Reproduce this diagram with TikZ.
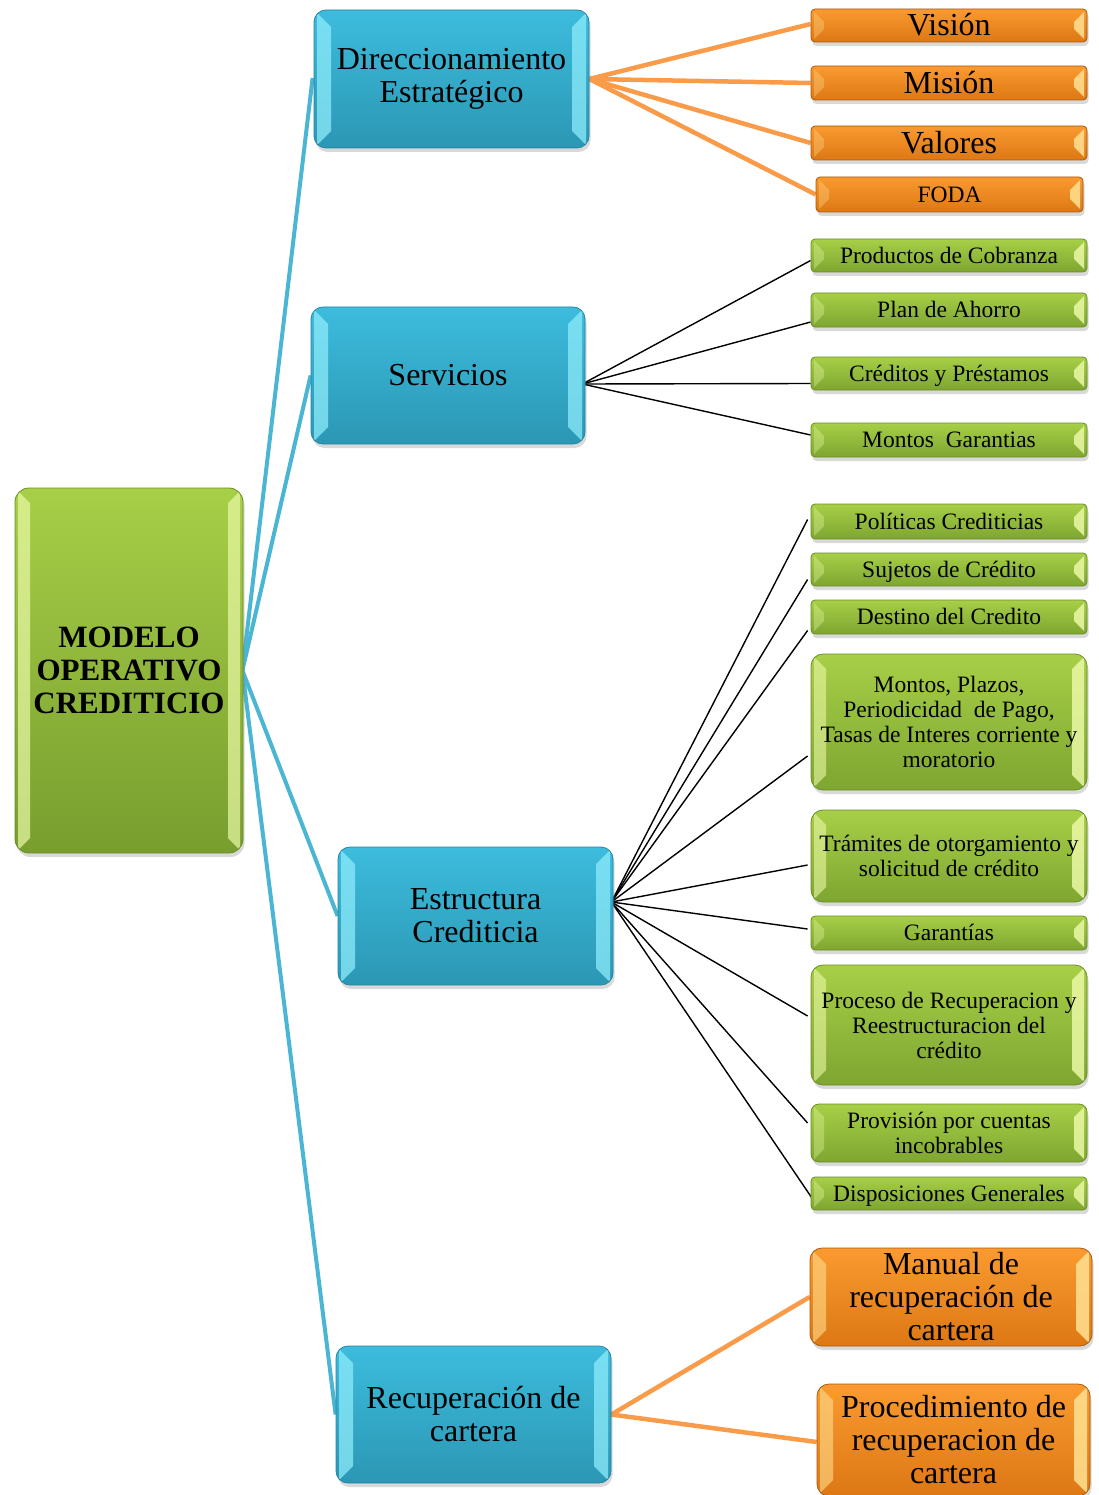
\documentclass[tikz,border=0pt]{standalone}
\usepackage{fontspec}
\setmainfont{Liberation Serif}
\usetikzlibrary{calc,shadows,backgrounds}
\definecolor{bluetop}{HTML}{3DBCDD}
\definecolor{bluebot}{HTML}{2B97B4}
\definecolor{bluedark}{HTML}{2785A0}
\definecolor{bluehi}{HTML}{8DEBFA}
\definecolor{greentop}{HTML}{A7CF47}
\definecolor{greenbot}{HTML}{7EA631}
\definecolor{greendark}{HTML}{6A8E26}
\definecolor{greenhi}{HTML}{EAF9A6}
\definecolor{orangetop}{HTML}{FA9A30}
\definecolor{orangebot}{HTML}{DD7814}
\definecolor{orangedark}{HTML}{A95A0E}
\definecolor{orangehi}{HTML}{FFDC8C}
\definecolor{blueline}{HTML}{4BB6D3}
\definecolor{orangeline}{HTML}{F99B48}
\newcommand\bigf{\fontsize{32}{33}\selectfont}
\newcommand\smallf{\fontsize{23.5}{25}\selectfont}
\newcommand\mainf{\fontsize{31}{33}\selectfont\bfseries}
\tikzset{
  bevel/.style n args={4}{path picture={
    \fill[#1,opacity=#3,sharp corners] ($(path picture bounding box.north west)+(3pt,-3pt)$) -- ++(#2pt,-#2pt)
      -- ($(path picture bounding box.south west)+(3pt+#2pt,3pt+#2pt)$) -- ++(-#2pt,-#2pt) -- cycle;
    \fill[#1,opacity=#4,sharp corners] ($(path picture bounding box.north east)+(-3pt,-3pt)$) -- ++(-#2pt,-#2pt)
      -- ($(path picture bounding box.south east)+(-3pt-#2pt,3pt+#2pt)$) -- ++(#2pt,-#2pt) -- cycle;
  }},
  base/.style={draw, line width=0.8pt, inner sep=0pt, align=center,
    drop shadow={shadow xshift=1.5pt,shadow yshift=-4pt,opacity=0.3}},
  bluebox/.style={base, draw=bluedark, top color=bluetop, bottom color=bluebot,
    rounded corners=12pt, font=\bigf, bevel={bluehi}{14}{0.75}{0.75},
    minimum width=275pt, minimum height=138pt},
  mainbox/.style={base, draw=greendark, top color=greentop, bottom color=greenbot!95!black,
    rounded corners=14pt, font=\mainf, bevel={greenhi}{12}{0.7}{0.7}},
  greenbox/.style={base, draw=greendark, top color=greentop, bottom color=greenbot,
    rounded corners=4pt, font=\smallf, minimum width=276pt, bevel={greenhi}{10}{0.35}{0.85}},
  greenbig/.style={greenbox, rounded corners=12pt, bevel={greenhi}{12}{0.6}{0.85}},
  orangebox/.style={base, draw=orangedark, top color=orangetop, bottom color=orangebot,
    rounded corners=4pt, font=\bigf, minimum width=276pt, bevel={orangehi}{10}{0.35}{0.9}},
  orangebig/.style={orangebox, rounded corners=12pt, bevel={orangehi}{13}{0.6}{0.9}},
  oneline/.style={text height=#1, text depth=0pt},
  bconn/.style={blueline, line width=4pt},
  oconn/.style={orangeline, line width=4.5pt},
  kconn/.style={black, line width=1.4pt}
}
\begin{document}
\begin{tikzpicture}[x=1pt,y=1pt]
\useasboundingbox (0,0) rectangle (1098,-1495);
% main
\node[mainbox, minimum width=228pt, minimum height=365pt] (main) at (129,-670.5) {MODELO\\OPERATIVO\\CREDITICIO};
% level 1
\node[bluebox] (dir) at (451.5,-79) {Direccionamiento\\Estratégico};
\node[bluebox, minimum width=274pt, minimum height=137pt] (serv) at (448,-375.5) {Servicios};
\node[bluebox] (estr) at (475.5,-916) {Estructura\\Crediticia};
\node[bluebox, minimum height=137pt] (recup) at (473.5,-1414.5) {Recuperación de\\cartera};
% direccionamiento children
\node[orangebox, minimum height=33pt, oneline=21pt] (vision) at (949,-25.5) {Visión};
\node[orangebox, minimum height=34pt, oneline=21pt] (mision) at (949,-83) {Misión};
\node[orangebox, minimum height=34pt, oneline=21pt] (valores) at (949,-143) {Valores};
\node[orangebox, minimum width=267pt, minimum height=35pt, font=\smallf, oneline=15.5pt] (foda) at (949.5,-194.5) {FODA};
% servicios children
\node[greenbox, minimum height=33pt, oneline=15.5pt] (prod) at (949,-255.5) {Productos de Cobranza};
\node[greenbox, minimum height=34pt, oneline=15.5pt] (plan) at (949,-310) {Plan de Ahorro};
\node[greenbox, minimum height=33pt, oneline=15.5pt] (cred) at (949,-373.5) {Créditos y Préstamos};
\node[greenbox, minimum height=34pt, oneline=15.5pt] (mont) at (949,-440) {Montos\ \ Garantias};
% estructura children
\node[greenbox, minimum height=35pt, oneline=15.5pt] (pol) at (949,-521.5) {Políticas Crediticias};
\node[greenbox, minimum height=33pt, oneline=15.5pt] (suj) at (949,-569.5) {Sujetos de Crédito};
\node[greenbox, minimum height=34pt, oneline=15.5pt] (dest) at (949,-617) {Destino del Credito};
\node[greenbig, minimum height=136pt] (plaz) at (949,-722) {Montos, Plazos,\\Periodicidad\ \ de Pago,\\Tasas de Interes corriente y\\moratorio};
\node[greenbig, minimum height=92pt] (tram) at (949,-856) {Trámites de otorgamiento y\\solicitud de crédito};
\node[greenbox, minimum height=34pt, oneline=15.5pt] (gar) at (949,-933) {Garantías};
\node[greenbig, minimum height=120pt] (proc) at (949,-1025) {Proceso de Recuperacion y\\Reestructuracion del\\crédito};
\node[greenbox, minimum height=58pt, rounded corners=8pt] (prov) at (949,-1133) {Provisión por cuentas\\incobrables};
\node[greenbox, minimum height=33pt, oneline=15.5pt] (disp) at (949,-1193.5) {Disposiciones Generales};
% recuperacion children
\node[orangebig, minimum width=282pt, minimum height=98pt] (manual) at (951,-1297) {Manual de\\recuperación de\\cartera};
\node[orangebig, minimum width=273pt, minimum height=112pt] (procd) at (953.5,-1440) {Procedimiento de\\recuperacion de\\cartera};
% connectors
\begin{scope}[on background layer]
\coordinate (mhub) at ([xshift=-1pt]main.east);
\draw[bconn] (mhub) -- ([xshift=-1pt,yshift=1pt]dir.west);
\draw[bconn] (mhub) -- (serv.west);
\draw[bconn] (mhub) -- (estr.west);
\draw[bconn] (mhub) -- (recup.west);
\coordinate (dhub) at (dir.east);
\draw[oconn] (dhub) -- ([yshift=1.5pt]vision.west);
\draw[oconn] (dhub) -- (mision.west);
\draw[oconn] (dhub) -- (valores.west);
\draw[oconn] (dhub) -- (foda.west);
\coordinate (shub) at ([xshift=-3pt,yshift=-8.5pt]serv.east);
\draw[kconn] (shub) -- ([yshift=-5pt]prod.west);
\draw[kconn] (shub) -- ([yshift=-12pt]plan.west);
\draw[kconn] (shub) -- ([yshift=-10pt]cred.west);
\draw[kconn] (shub) -- ([yshift=5pt]mont.west);
\coordinate (ehub) at ([xshift=-2pt,yshift=14pt]estr.east);
\draw[kconn] (ehub) -- ([xshift=-3pt,yshift=2pt]pol.west);
\draw[kconn] (ehub) -- ([xshift=-3pt,yshift=-10pt]suj.west);
\draw[kconn] (ehub) -- ([xshift=-3pt,yshift=-13.5pt]dest.west);
\draw[kconn] (ehub) -- ([xshift=-3pt,yshift=-34pt]plaz.west);
\draw[kconn] (ehub) -- ([xshift=-3pt,yshift=-9pt]tram.west);
\draw[kconn] (ehub) -- ([xshift=-3pt,yshift=4pt]gar.west);
\draw[kconn] (ehub) -- ([xshift=-3pt,yshift=9pt]proc.west);
\draw[kconn] (ehub) -- ([xshift=-3pt,yshift=10pt]prov.west);
\draw[kconn] (ehub) -- ([xshift=2pt,yshift=-5.5pt]disp.west);
\coordinate (rhub) at (recup.east);
\draw[oconn] (rhub) -- (manual.west);
\draw[oconn] (rhub) -- ([yshift=-2pt]procd.west);
\end{scope}
\end{tikzpicture}
\end{document}
